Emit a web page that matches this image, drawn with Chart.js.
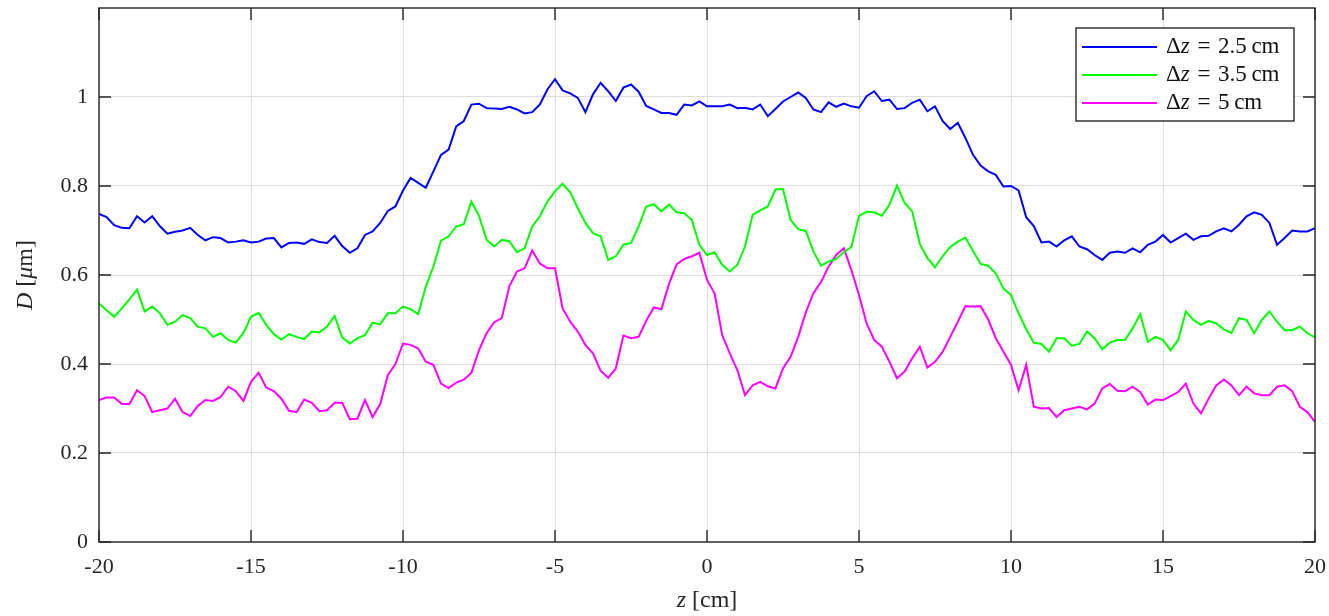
<!DOCTYPE html>
<html>
<head>
<meta charset="utf-8">
<title>D vs z</title>
<script src="https://cdn.jsdelivr.net/npm/chart.js@4.4.1/dist/chart.umd.min.js"></script>
<style>
  html, body { margin: 0; padding: 0; background: #fff; }
  #wrap { width: 1329px; height: 616px; }
</style>
</head>
<body>
<div id="wrap"><canvas id="chart" width="1329" height="616"></canvas></div>
<script>
// z positions [cm] at 0.25 cm steps
const z = [
  -20, -19.75, -19.5, -19.25, -19, -18.75, -18.5, -18.25,
  -18, -17.75, -17.5, -17.25, -17, -16.75, -16.5, -16.25,
  -16, -15.75, -15.5, -15.25, -15, -14.75, -14.5, -14.25,
  -14, -13.75, -13.5, -13.25, -13, -12.75, -12.5, -12.25,
  -12, -11.75, -11.5, -11.25, -11, -10.75, -10.5, -10.25,
  -10, -9.75, -9.5, -9.25, -9, -8.75, -8.5, -8.25,
  -8, -7.75, -7.5, -7.25, -7, -6.75, -6.5, -6.25,
  -6, -5.75, -5.5, -5.25, -5, -4.75, -4.5, -4.25,
  -4, -3.75, -3.5, -3.25, -3, -2.75, -2.5, -2.25,
  -2, -1.75, -1.5, -1.25, -1, -0.75, -0.5, -0.25,
  0, 0.25, 0.5, 0.75, 1, 1.25, 1.5, 1.75,
  2, 2.25, 2.5, 2.75, 3, 3.25, 3.5, 3.75,
  4, 4.25, 4.5, 4.75, 5, 5.25, 5.5, 5.75,
  6, 6.25, 6.5, 6.75, 7, 7.25, 7.5, 7.75,
  8, 8.25, 8.5, 8.75, 9, 9.25, 9.5, 9.75,
  10, 10.25, 10.5, 10.75, 11, 11.25, 11.5, 11.75,
  12, 12.25, 12.5, 12.75, 13, 13.25, 13.5, 13.75,
  14, 14.25, 14.5, 14.75, 15, 15.25, 15.5, 15.75,
  16, 16.25, 16.5, 16.75, 17, 17.25, 17.5, 17.75,
  18, 18.25, 18.5, 18.75, 19, 19.25, 19.5, 19.75,
  20
];

// D [um] for dz = 2.5 cm (blue)
const dz25 = [
  0.737, 0.730, 0.712, 0.706, 0.705, 0.732, 0.718, 0.732,
  0.710, 0.693, 0.697, 0.700, 0.706, 0.690, 0.678, 0.685,
  0.683, 0.673, 0.675, 0.678, 0.673, 0.675, 0.682, 0.683,
  0.662, 0.672, 0.673, 0.670, 0.680, 0.674, 0.672, 0.688,
  0.665, 0.650, 0.660, 0.690, 0.698, 0.717, 0.744, 0.754,
  0.790, 0.818, 0.807, 0.796, 0.833, 0.870, 0.882, 0.934,
  0.946, 0.983, 0.985, 0.975, 0.974, 0.973, 0.978, 0.972,
  0.963, 0.966, 0.983, 1.017, 1.040, 1.015, 1.008, 0.998,
  0.966, 1.006, 1.032, 1.013, 0.991, 1.021, 1.028, 1.012,
  0.980, 0.972, 0.964, 0.964, 0.960, 0.983, 0.981, 0.990,
  0.979, 0.979, 0.979, 0.983, 0.975, 0.976, 0.972, 0.983,
  0.957, 0.973, 0.990, 1.000, 1.010, 0.998, 0.972, 0.966,
  0.988, 0.978, 0.985, 0.979, 0.976, 1.002, 1.013, 0.991,
  0.994, 0.973, 0.975, 0.987, 0.994, 0.968, 0.979, 0.946,
  0.928, 0.942, 0.908, 0.870, 0.846, 0.833, 0.825, 0.799,
  0.800, 0.790, 0.730, 0.710, 0.673, 0.675, 0.664, 0.678,
  0.687, 0.664, 0.658, 0.645, 0.634, 0.650, 0.653, 0.650,
  0.660, 0.651, 0.668, 0.675, 0.690, 0.673, 0.683, 0.693,
  0.679, 0.687, 0.688, 0.698, 0.705, 0.698, 0.713, 0.732,
  0.741, 0.735, 0.717, 0.668, 0.683, 0.700, 0.698, 0.698,
  0.705
];

// dz = 3.5 cm (green)
const dz35 = [
  0.536, 0.521, 0.506, 0.525, 0.545, 0.567, 0.518, 0.529,
  0.514, 0.488, 0.495, 0.510, 0.503, 0.484, 0.480, 0.461,
  0.469, 0.454, 0.448, 0.470, 0.506, 0.515, 0.488, 0.467,
  0.455, 0.467, 0.461, 0.456, 0.473, 0.471, 0.484, 0.508,
  0.460, 0.446, 0.458, 0.465, 0.493, 0.489, 0.514, 0.514,
  0.529, 0.523, 0.512, 0.574, 0.619, 0.677, 0.687, 0.709,
  0.714, 0.765, 0.733, 0.679, 0.664, 0.679, 0.676, 0.651,
  0.660, 0.709, 0.732, 0.765, 0.788, 0.805, 0.786, 0.750,
  0.717, 0.694, 0.687, 0.634, 0.642, 0.668, 0.672, 0.709,
  0.754, 0.759, 0.743, 0.758, 0.741, 0.739, 0.724, 0.668,
  0.645, 0.651, 0.623, 0.608, 0.623, 0.664, 0.735, 0.745,
  0.754, 0.792, 0.793, 0.724, 0.703, 0.699, 0.653, 0.621,
  0.630, 0.636, 0.651, 0.663, 0.733, 0.742, 0.741, 0.733,
  0.758, 0.801, 0.762, 0.743, 0.670, 0.638, 0.617, 0.642,
  0.663, 0.675, 0.684, 0.654, 0.625, 0.621, 0.603, 0.570,
  0.555, 0.514, 0.478, 0.448, 0.445, 0.428, 0.458, 0.458,
  0.441, 0.445, 0.473, 0.458, 0.433, 0.448, 0.454, 0.454,
  0.480, 0.512, 0.450, 0.461, 0.454, 0.431, 0.454, 0.518,
  0.499, 0.488, 0.497, 0.491, 0.478, 0.470, 0.503, 0.499,
  0.469, 0.499, 0.518, 0.495, 0.476, 0.476, 0.484, 0.469,
  0.460
];

// dz = 5 cm (magenta)
const dz50 = [
  0.319, 0.325, 0.325, 0.310, 0.310, 0.341, 0.328, 0.292,
  0.296, 0.300, 0.322, 0.292, 0.283, 0.306, 0.319, 0.317,
  0.326, 0.349, 0.339, 0.317, 0.360, 0.380, 0.347, 0.339,
  0.322, 0.295, 0.292, 0.320, 0.313, 0.294, 0.296, 0.313,
  0.313, 0.276, 0.277, 0.319, 0.281, 0.310, 0.375, 0.400,
  0.446, 0.443, 0.435, 0.405, 0.398, 0.356, 0.346, 0.358,
  0.365, 0.380, 0.431, 0.469, 0.494, 0.503, 0.575, 0.608,
  0.615, 0.655, 0.626, 0.615, 0.615, 0.525, 0.495, 0.473,
  0.443, 0.424, 0.385, 0.369, 0.390, 0.464, 0.458, 0.461,
  0.497, 0.527, 0.523, 0.580, 0.624, 0.636, 0.642, 0.650,
  0.589, 0.559, 0.465, 0.424, 0.386, 0.330, 0.352, 0.360,
  0.350, 0.345, 0.390, 0.416, 0.461, 0.516, 0.559, 0.584,
  0.619, 0.645, 0.660, 0.611, 0.555, 0.491, 0.454, 0.439,
  0.405, 0.368, 0.383, 0.413, 0.439, 0.392, 0.405, 0.427,
  0.461, 0.495, 0.530, 0.529, 0.530, 0.500, 0.458, 0.428,
  0.398, 0.341, 0.398, 0.304, 0.300, 0.301, 0.281, 0.296,
  0.300, 0.304, 0.298, 0.311, 0.345, 0.355, 0.340, 0.339,
  0.349, 0.337, 0.309, 0.320, 0.319, 0.328, 0.337, 0.356,
  0.311, 0.289, 0.322, 0.352, 0.365, 0.352, 0.330, 0.349,
  0.334, 0.330, 0.330, 0.349, 0.352, 0.339, 0.304, 0.292,
  0.270
];

const xTicks = [-20, -15, -10, -5, 0, 5, 10, 15, 20];
const yTicks = [0, 0.2, 0.4, 0.6, 0.8, 1];
const dzLabels = ['2.5', '3.5', '5'];
const lineColors = ['#0000ff', '#00ff00', '#ff00ff'];

const FONT = '"Liberation Serif", "DejaVu Serif", serif';
const INK = '#262626';

function pts(vals) {
  return z.map((zv, i) => ({x: zv, y: vals[i]}));
}

// draws a run of text pieces, some italic, starting at x (or centred on it)
function richText(ctx, parts, x, y, size, align) {
  const fontOf = p => (p.it ? 'italic ' : '') + size + 'px ' + FONT;
  let w = 0;
  parts.forEach(p => { ctx.font = fontOf(p); w += ctx.measureText(p.t).width; });
  let cx = align === 'center' ? x - w / 2 : x;
  ctx.textAlign = 'left';
  ctx.textBaseline = 'middle';
  parts.forEach(p => {
    ctx.font = fontOf(p);
    ctx.fillText(p.t, cx, y);
    cx += ctx.measureText(p.t).width;
  });
}

// box, inward ticks, axis titles and legend in the MATLAB style
const frame = {
  id: 'frame',
  afterDraw(chart) {
    const {ctx, chartArea: a, scales: {x, y}} = chart;
    const tl = 12;
    ctx.save();
    ctx.strokeStyle = INK;
    ctx.lineWidth = 1.4;
    ctx.beginPath();
    xTicks.forEach(v => {
      const px = x.getPixelForValue(v);
      ctx.moveTo(px, a.bottom); ctx.lineTo(px, a.bottom - tl);
      ctx.moveTo(px, a.top); ctx.lineTo(px, a.top + tl);
    });
    yTicks.forEach(v => {
      const py = y.getPixelForValue(v);
      ctx.moveTo(a.left, py); ctx.lineTo(a.left + tl, py);
      ctx.moveTo(a.right, py); ctx.lineTo(a.right - tl, py);
    });
    ctx.stroke();
    ctx.strokeRect(a.left, a.top, a.right - a.left, a.bottom - a.top);

    ctx.fillStyle = INK;
    // x title
    richText(ctx, [{t: 'z', it: true}, {t: ' [cm]'}], (a.left + a.right) / 2, 601, 24, 'center');
    // y title
    ctx.save();
    ctx.translate(26, (a.top + a.bottom) / 2);
    ctx.rotate(-Math.PI / 2);
    richText(ctx, [{t: 'D', it: true}, {t: ' ['}, {t: 'μ', it: true}, {t: 'm]'}], 0, 0, 24, 'center');
    ctx.restore();

    // legend
    const bx = a.right - 239, by = a.top + 20, bw = 218, bh = 93;
    ctx.fillStyle = '#fff';
    ctx.fillRect(bx, by, bw, bh);
    ctx.strokeStyle = INK;
    ctx.lineWidth = 1.4;
    ctx.strokeRect(bx, by, bw, bh);
    chart.data.datasets.forEach((ds, i) => {
      const ly = by + 19 + i * 28;
      ctx.strokeStyle = ds.borderColor;
      ctx.lineWidth = 2;
      ctx.beginPath();
      ctx.moveTo(bx + 6, ly); ctx.lineTo(bx + 81, ly);
      ctx.stroke();
      ctx.fillStyle = '#111';
      richText(ctx, [{t: 'Δ'}, {t: 'z', it: true}, {t: '\u2004=\u2004'}, {t: dzLabels[i]}, {t: '\u2009cm'}], bx + 90, ly, 23, 'left');
    });
    ctx.restore();
  }
};

Chart.defaults.font.family = FONT;
Chart.defaults.color = INK;

new Chart(document.getElementById('chart'), {
  type: 'line',
  data: {
    datasets: [dz25, dz35, dz50].map((vals, i) => ({
      label: 'Δz = ' + dzLabels[i] + ' cm',
      data: pts(vals),
      borderColor: lineColors[i],
      borderWidth: 2,
      pointRadius: 0,
      tension: 0,
      fill: false
    }))
  },
  options: {
    responsive: false,
    animation: false,
    layout: {padding: {left: 0, right: 14, top: 8, bottom: 0}},
    plugins: {legend: {display: false}, tooltip: {enabled: false}},
    scales: {
      x: {
        type: 'linear',
        min: -20, max: 20,
        afterBuildTicks: s => { s.ticks = xTicks.map(v => ({value: v})); },
        afterFit: s => { s.height = 74; s.paddingLeft = 0; s.paddingRight = 0; },
        grid: {color: '#dedede', lineWidth: 1, drawTicks: false},
        border: {display: false},
        ticks: {font: {size: 22}, padding: 12, color: INK, maxRotation: 0, callback: v => String(v)}
      },
      y: {
        type: 'linear',
        min: 0, max: 1.2,
        afterBuildTicks: s => { s.ticks = yTicks.map(v => ({value: v})); },
        afterFit: s => { s.width = 99; s.paddingTop = 0; s.paddingBottom = 0; },
        grid: {color: '#dedede', lineWidth: 1, drawTicks: false},
        border: {display: false},
        ticks: {font: {size: 22}, padding: 11, color: INK, callback: v => String(Math.round(v * 10) / 10)}
      }
    }
  },
  plugins: [frame]
});
</script>
</body>
</html>
